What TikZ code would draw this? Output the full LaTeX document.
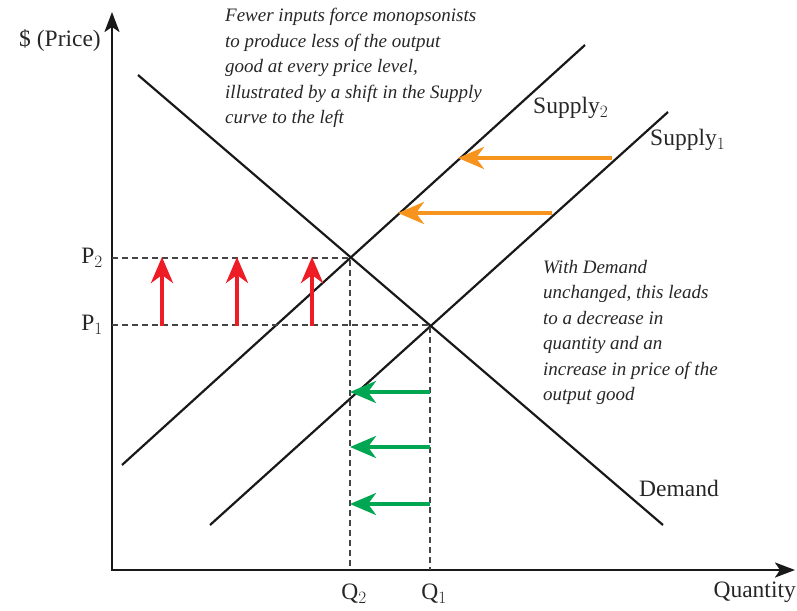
\documentclass[tikz,border=0pt]{standalone}
\usepackage{fontspec}
\setmainfont{Liberation Serif}
\usepackage{xcolor}
\usetikzlibrary{positioning, arrows.meta, calc}
\definecolor{shiftred}{HTML}{EE1C25}
\definecolor{shiftorange}{HTML}{F7941D}
\definecolor{shiftgreen}{HTML}{00A651}
\definecolor{guidegray}{HTML}{444444}

\tikzset{
  curve/.style={line width=2.2pt, black!90},
  axisline/.style={line width=2.6pt, black!90, -{Stealth[length=20pt, width=15pt, inset=5pt]}},
  guide/.style={guidegray, line width=1.3pt, dash pattern=on 6pt off 4pt},
  shiftarrow/.style={line width=4pt, -{Stealth[length=26pt, width=22pt, inset=8pt]}},
  label/.style={font=\fontsize{23.5}{27}\selectfont, inner sep=0pt, text=black!85},
  note/.style={font=\fontsize{19}{25.5}\selectfont\itshape, align=left, inner sep=0pt, anchor=north west, text=black!85}
}

\begin{document}
\begin{tikzpicture}[x=1pt, y=-1pt]
    \useasboundingbox (0,0) rectangle (797,610);

    % axes
    \coordinate (origin) at (112,570);
    \coordinate (ytop) at (112,12);
    \coordinate (xend) at (795,570);
    \draw[axisline] (origin) -- (ytop);
    \draw[axisline] ([xshift=-1.3pt]origin) -- (xend);
    \node[label, anchor=east] (price) at (101,40) {\$ (Price)};
    \node[label, anchor=north east] (quantity) at (796,582) {Quantity};

    % demand and supply
    \coordinate (dem1) at (138,75);
    \coordinate (dem2) at (663,525);
    \coordinate (sup1a) at (210,525);
    \coordinate (sup1b) at (668,112);
    \coordinate (sup2a) at (122,465);
    \coordinate (sup2b) at (585,45);
    \draw[curve] (dem1) -- (dem2);
    \draw[curve] (sup1a) -- (sup1b);
    \draw[curve] (sup2a) -- (sup2b);
    \node[label, anchor=west] (demand) at (639,488) {Demand};
    \node[label, anchor=west] (supplyone) at (650,140) {Supply$_{1}$};
    \node[label, anchor=west] (supplytwo) at (533,108) {Supply$_{2}$};

    % equilibria
    \coordinate (eqone) at (430,325);
    \coordinate (eqtwo) at (350,258);
    \draw[guide] (origin |- eqtwo) -- (eqtwo) -- (eqtwo |- origin);
    \draw[guide] (origin |- eqone) -- (eqone) -- (eqone |- origin);
    \node[label, anchor=east] (ptwo) at (103,258) {P$_{2}$};
    \node[label, anchor=east] (pone) at (103,325) {P$_{1}$};
    \node[label] (qtwo) at (354,594) {Q$_{2}$};
    \node[label] (qone) at (434,594) {Q$_{1}$};

    % price rises
    \foreach \x in {162, 237, 312} {
      \coordinate (rlow\x) at (\x,326);
      \coordinate (rhigh\x) at (\x,257);
      \draw[shiftarrow, shiftred] (rlow\x) -- (rhigh\x);
    }

    % supply shifts
    \coordinate (oa) at (612,158);
    \coordinate (ob) at (458,158);
    \coordinate (oc) at (552,213);
    \coordinate (od) at (398,213);
    \draw[shiftarrow, shiftorange] (oa) -- (ob);
    \draw[shiftarrow, shiftorange] (oc) -- (od);

    % quantity falls
    \foreach \y in {392, 447, 504} {
      \coordinate (gr\y) at (430,\y);
      \coordinate (gl\y) at (350,\y);
      \draw[shiftarrow, shiftgreen] (gr\y) -- (gl\y);
    }

    \node[note] (topnote) at (225,8) {Fewer inputs force monopsonists\\
      to produce less of the output\\
      good at every price level,\\
      illustrated by a shift in the Supply\\
      curve to the left};
    \node[note] (sidenote) at (543,260) {With Demand\\
      unchanged, this leads\\
      to a decrease in\\
      quantity and an\\
      increase in price of the\\
      output good};
\end{tikzpicture}
\end{document}
